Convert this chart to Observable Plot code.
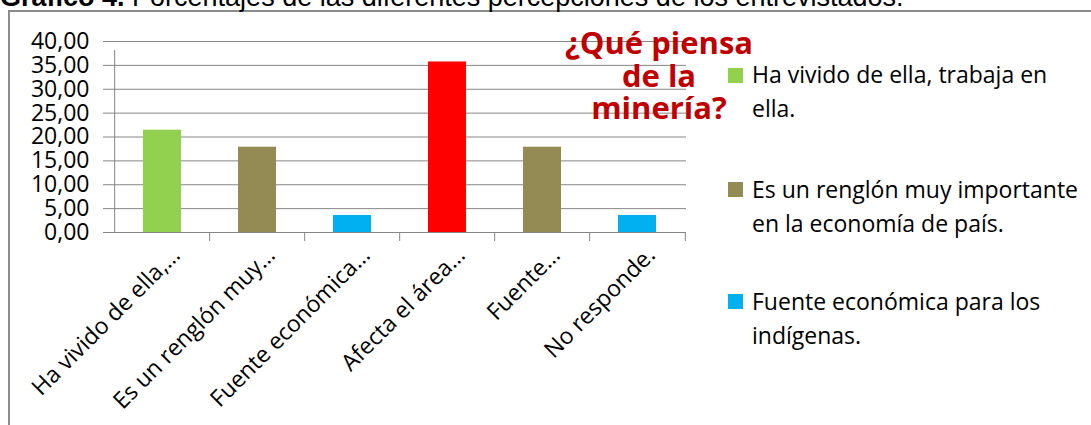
<!DOCTYPE html>
<html><head><meta charset="utf-8">
<script src="https://cdn.jsdelivr.net/npm/d3@7"></script>
<script src="https://cdn.jsdelivr.net/npm/@observablehq/plot@0.6"></script>
<style>
body{margin:0;background:#fff;width:1091px;height:425px;overflow:hidden;position:relative;font-family:"Open Sans",sans-serif}
#frame{position:absolute;left:8px;top:10px;width:1200px;height:600px;border-left:2px solid #8c8c8c;border-top:2px solid #8c8c8c;box-sizing:border-box}
#pageTitle{position:absolute;left:0;top:-16px;font-family:Arial,"Liberation Sans",sans-serif;font-size:27px;line-height:27px;white-space:nowrap;color:#000}
#chart{position:absolute;left:0;top:0}
#chartTitle{position:absolute;left:559px;width:200px;top:26px;text-align:center;color:#C00000;font-weight:700;font-size:31px;line-height:32.5px;font-family:"Open Sans",sans-serif}
.leg{position:absolute;left:752px;font-size:23px;line-height:34px;color:#000;white-space:nowrap}
.sw{position:absolute;left:728px;width:15px;height:15px}
</style></head>
<body>
<div id="frame"></div>
<div id="pageTitle"><b>Gráfico 4.</b> Porcentajes de las diferentes percepciones de los entrevistados.</div>
<div id="chart"></div>
<div id="chartTitle"></div>
<div id="legend"></div>
<script>
const tickLabels = ["Ha vivido de ella,…", "Es un renglón muy…", "Fuente económica…", "Afecta el área…", "Fuente…", "No responde."];
const values = [21.43, 17.86, 3.57, 35.71, 17.86, 3.57];
const colors = ["#92D050", "#948A54", "#00B0F0", "#FF0000", "#948A54", "#00B0F0"];
const yTicks = [0, 5, 10, 15, 20, 25, 30, 35, 40];
const legendLabels = [["Ha vivido de ella, trabaja en", "ella."], ["Es un renglón muy importante", "en la economía de país."], ["Fuente económica para los", "indígenas."]];
const legendColors = ["#92D050", "#948A54", "#00B0F0"];
const titleLines = ["¿Qué piensa", "de la", "minería?"];

const W = 1091, H = 425, mL = 112, mR = 405, mT = 41, mB = 193;
const step = (W - mL - mR) / tickLabels.length;
const data = tickLabels.map((c, i) => ({cat: c, value: values[i], color: colors[i]}));
const grey = "#868686";

const plot = Plot.plot({
  width: W, height: H,
  marginLeft: mL, marginRight: mR, marginTop: mT, marginBottom: mB,
  style: {fontFamily: "'Open Sans', sans-serif", fontSize: "23px", color: "#000", background: "transparent", overflow: "visible"},
  x: {domain: tickLabels, paddingInner: 0.6, paddingOuter: 0.3, axis: null},
  y: {domain: [0, 40], axis: null},
  marks: [
    Plot.gridY(yTicks, {stroke: grey, strokeOpacity: 1, strokeWidth: 1}),
    Plot.axisY(yTicks, {tickSize: 9, tickPadding: 14, stroke: grey, strokeOpacity: 1, fill: "#000", tickFormat: d => d.toFixed(2).replace(".", ","), label: null}),
    Plot.ruleX([tickLabels[0]], {dx: -step / 2, y1: 0, y2: 40, stroke: grey, insetBottom: -9}),
    Plot.ruleX(tickLabels.slice(1), {dx: -step / 2, y1: 0, y2: 0, stroke: grey, insetBottom: -9}),
    Plot.ruleX([tickLabels[tickLabels.length - 1]], {dx: step / 2, y1: 0, y2: 0, stroke: grey, insetBottom: -9}),
    Plot.barY(data, {x: "cat", y: "value", fill: "color"}),
    Plot.text(data, {x: "cat", frameAnchor: "bottom", text: "cat", rotate: -45, textAnchor: "end", lineAnchor: "bottom", dx: 19, dy: 24, fill: "#000", fontSize: 23})
  ]
});
document.getElementById("chart").appendChild(plot);

document.getElementById("chartTitle").innerHTML = titleLines.join("<br>");

const legTops = [57, 172, 284];
const swTops = [68, 182, 294];
const leg = document.getElementById("legend");
legendLabels.forEach((lines, i) => {
  const sw = document.createElement("div");
  sw.className = "sw"; sw.style.top = swTops[i] + "px"; sw.style.background = legendColors[i];
  leg.appendChild(sw);
  const t = document.createElement("div");
  t.className = "leg"; t.style.top = legTops[i] + "px"; t.innerHTML = lines.join("<br>");
  leg.appendChild(t);
});
</script>
</body></html>
